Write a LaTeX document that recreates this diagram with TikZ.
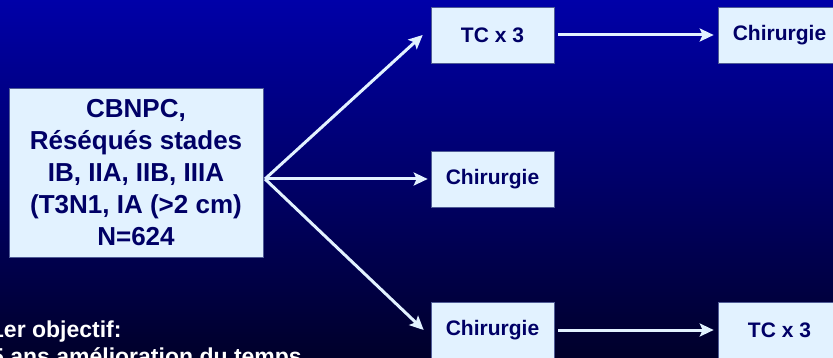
\documentclass[tikz,border=0pt]{standalone}
\usepackage{fontspec}
\setmainfont{Liberation Sans}
\usepackage{tikz}
\usetikzlibrary{positioning,arrows.meta}
\usepackage{xcolor}
\definecolor{slidetop}{RGB}{0,0,168}
\definecolor{slidebottom}{RGB}{0,0,42}
\definecolor{boxfill}{RGB}{226,242,255}
\definecolor{boxline}{RGB}{80,92,150}
\definecolor{boxtext}{RGB}{0,0,102}

\begin{document}
\begin{tikzpicture}[
  x=1pt, y=-1pt,
  every node/.style={text=boxtext},
  cohort/.style={draw=boxline, fill=boxfill, line width=0.6pt,
    align=center, inner sep=0pt,
    minimum width=254pt, minimum height=169pt,
    font=\fontsize{26}{32}\selectfont\bfseries},
  arm/.style={draw=boxline, fill=boxfill, line width=0.6pt,
    align=center, inner sep=0pt,
    minimum width=123pt, minimum height=56pt,
    font=\fontsize{21}{25}\selectfont\bfseries},
  goal/.style={text=white, align=left, inner sep=0pt,
    font=\fontsize{23}{27}\selectfont\bfseries},
  arr/.style={-{Stealth[length=14pt,width=13pt,inset=3pt]},
    line width=3pt, draw=boxfill},
]
\useasboundingbox (0,0) rectangle (833,358);
\clip (0,0) rectangle (833,358);
\shade[top color=slidetop, bottom color=slidebottom] (0,0) rectangle (833,358);

\node[cohort] at (136,172.5) (cbnpc) {CBNPC,\\R\'es\'equ\'es stades\\IB, IIA, IIB, IIIA\\(T3N1, IA (>2 cm)\\N=624};

\node[arm] at (492.5, 35) (tcTop)   {TC x 3};
\node[arm] at (779.5, 35) (chirTop) {Chirurgie};
\node[arm] at (492.5,179) (chirMid) {Chirurgie};
\node[arm] at (492.5,330) (chirBot) {Chirurgie};
\node[arm] at (779.5,330) (tcBot)   {TC x 3};

% base = last line, so the first line sits 27pt higher
\node[goal, anchor=base west] at (-9,364) (aim) {1er objectif:\\5 ans am\'elioration du temps};

% the three arms fan out from one point right of the cohort box
\coordinate (split) at (265,179);
\draw[arr] (split) -- ([xshift=-8pt]tcTop.west);
\draw[arr] (split) -- ([xshift=-3pt]chirMid.west);
\draw[arr] (split) -- ([xshift=-7pt]chirBot.west);
\draw[arr, shorten <=4pt] (tcTop.east)   -- ([xshift=-4pt]chirTop.west);
\draw[arr, shorten <=4pt] (chirBot.east) -- ([xshift=-4pt]tcBot.west);
\end{tikzpicture}
\end{document}
